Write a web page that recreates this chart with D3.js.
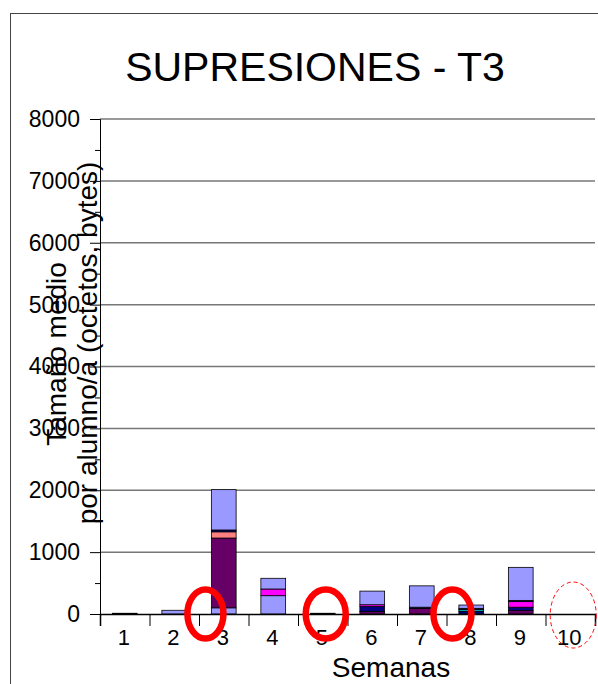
<!DOCTYPE html>
<html lang="es">
<head>
<meta charset="utf-8">
<script src="https://d3js.org/d3.v7.min.js"></script>
<style>
  body { margin: 0; background: #fff; }
  svg text { font-family: "Liberation Sans", Arial, sans-serif; fill: #000; }
</style>
</head>
<body>
<svg width="598" height="684"></svg>
<script>
// semanas (eje x) y marcas del eje y
const semanas = ["1", "2", "3", "4", "5", "6", "7", "8", "9", "10"];
const yTicks = [0, 1000, 2000, 3000, 4000, 5000, 6000, 7000, 8000];
const yMinor = [500, 1500, 2500, 3500, 4500, 5500, 6500, 7500];

// series apiladas, de abajo a arriba (bytes por semana)
const lavandaBase = [0, 60, 100, 296, 0, 0, 0, 0, 0, 0];
const morado      = [12, 0, 1128, 0, 12, 40, 90, 0, 55, 0];
const marino      = [0, 0, 0, 0, 0, 80, 0, 48, 55, 0];
const cian        = [0, 0, 0, 0, 0, 0, 0, 27, 0, 0];
const salmon      = [0, 0, 100, 0, 0, 0, 0, 0, 0, 0];
const magenta     = [0, 0, 0, 108, 0, 30, 0, 0, 90, 0];
const oscuro      = [0, 0, 30, 0, 0, 0, 20, 16, 20, 0];
const lavandaTop  = [0, 0, 652, 173, 0, 220, 345, 54, 534, 0];

const seriesKeys = ["lavandaBase", "morado", "marino", "cian", "salmon", "magenta", "oscuro", "lavandaTop"];
const seriesColors = ["#9999FF", "#660066", "#000080", "#00FFFF", "#FF8080", "#FF00FF", "#000080", "#9999FF"];

// circulos rojos dibujados encima (semana + desplazamiento dentro de la banda)
const marcas = [
  { semana: "3", off: 0.13, rx: 18, dashed: false },
  { semana: "5", off: 0.56, rx: 20, dashed: false },
  { semana: "8", off: 0.12, rx: 19, dashed: false },
  { semana: "10", off: 0.56, rx: 23, dashed: true }
];

const seriesData = [lavandaBase, morado, marino, cian, salmon, magenta, oscuro, lavandaTop];
const table = semanas.map((s, i) => {
  const row = { semana: s };
  seriesKeys.forEach((k, j) => row[k] = seriesData[j][i]);
  return row;
});

const svg = d3.select("svg");

// marco exterior
svg.append("rect")
  .attr("x", 10.5).attr("y", 13.5)
  .attr("width", 620).attr("height", 700)
  .attr("fill", "none").attr("stroke", "#444").attr("stroke-width", 1);

const plotLeft = 100, plotRight = 595, plotTop = 119, plotBottom = 614;

const x = d3.scaleBand().domain(semanas).range([plotLeft, plotRight])
  .paddingInner(0.5).paddingOuter(0.25);
const xEdge = d3.scaleLinear().domain([0, semanas.length]).range([plotLeft, plotRight]);
const y = d3.scaleLinear().domain([0, 8000]).range([plotBottom, plotTop]);

// lineas de cuadricula
svg.append("g")
  .selectAll("line")
  .data(yTicks.filter(d => d > 0))
  .join("line")
  .attr("x1", plotLeft).attr("x2", plotRight)
  .attr("y1", d => y(d)).attr("y2", d => y(d))
  .attr("stroke", "#777").attr("stroke-width", 1.5);

// barras apiladas
const stack = d3.stack().keys(seriesKeys)(table);
svg.append("g")
  .selectAll("g")
  .data(stack)
  .join("g")
  .attr("fill", (d, i) => seriesColors[i])
  .selectAll("rect")
  .data(d => d.filter(p => p[1] - p[0] > 0))
  .join("rect")
  .attr("x", d => x(d.data.semana))
  .attr("width", x.bandwidth())
  .attr("y", d => y(d[1]))
  .attr("height", d => y(d[0]) - y(d[1]))
  .attr("stroke", "#000")
  .attr("stroke-width", 0.8);

// eje y
const yAxis = svg.append("g")
  .attr("transform", `translate(${plotLeft},0)`)
  .call(d3.axisLeft(y).tickValues(yTicks).tickSize(10).tickPadding(10).tickFormat(d3.format("d")));
yAxis.selectAll("text").style("font-size", "23px");
svg.append("g")
  .attr("transform", `translate(${plotLeft},0)`)
  .call(d3.axisLeft(y).tickValues(yMinor).tickSize(5).tickFormat(""))
  .select(".domain").remove();

// eje x: marcas en los limites de cada semana
const xAxis = svg.append("g")
  .attr("transform", `translate(0,${plotBottom})`)
  .call(d3.axisBottom(xEdge).tickValues(d3.range(semanas.length + 1)).tickSize(12).tickFormat(""));
xAxis.select(".domain").attr("stroke-width", 1.5);

svg.append("g")
  .selectAll("text")
  .data(semanas)
  .join("text")
  .attr("x", d => x(d) + x.bandwidth() / 2 - 1)
  .attr("y", plotBottom + 31)
  .attr("text-anchor", "middle")
  .style("font-size", "22px")
  .text(d => d);

svg.selectAll(".domain, .tick line").attr("stroke", "#000");

// titulos
svg.append("text")
  .attr("x", 315).attr("y", 81)
  .attr("text-anchor", "middle")
  .style("font-size", "41px")
  .text("SUPRESIONES - T3");

svg.append("text")
  .attr("x", 391).attr("y", 677)
  .attr("text-anchor", "middle")
  .style("font-size", "28px")
  .text("Semanas");

svg.append("text")
  .attr("transform", "translate(66,354) rotate(-90)")
  .attr("text-anchor", "middle")
  .style("font-size", "28px")
  .text("Tamaño medio");
svg.append("text")
  .attr("transform", "translate(97,343) rotate(-90)")
  .attr("text-anchor", "middle")
  .style("font-size", "28px")
  .text("por alumno/a (octetos, bytes)");

// circulos rojos
svg.append("g")
  .selectAll("ellipse")
  .data(marcas)
  .join("ellipse")
  .attr("cx", d => x(d.semana) - x.step() * x.paddingInner() / 2 + d.off * x.step())
  .attr("cy", d => d.dashed ? plotBottom + 1 : plotBottom)
  .attr("rx", d => d.rx)
  .attr("ry", d => d.dashed ? 33 : 24.5)
  .attr("fill", "none")
  .attr("stroke", "#FF0000")
  .attr("stroke-width", d => d.dashed ? 1 : 6.5)
  .attr("stroke-dasharray", d => d.dashed ? "4,3" : null);
</script>
</body>
</html>
